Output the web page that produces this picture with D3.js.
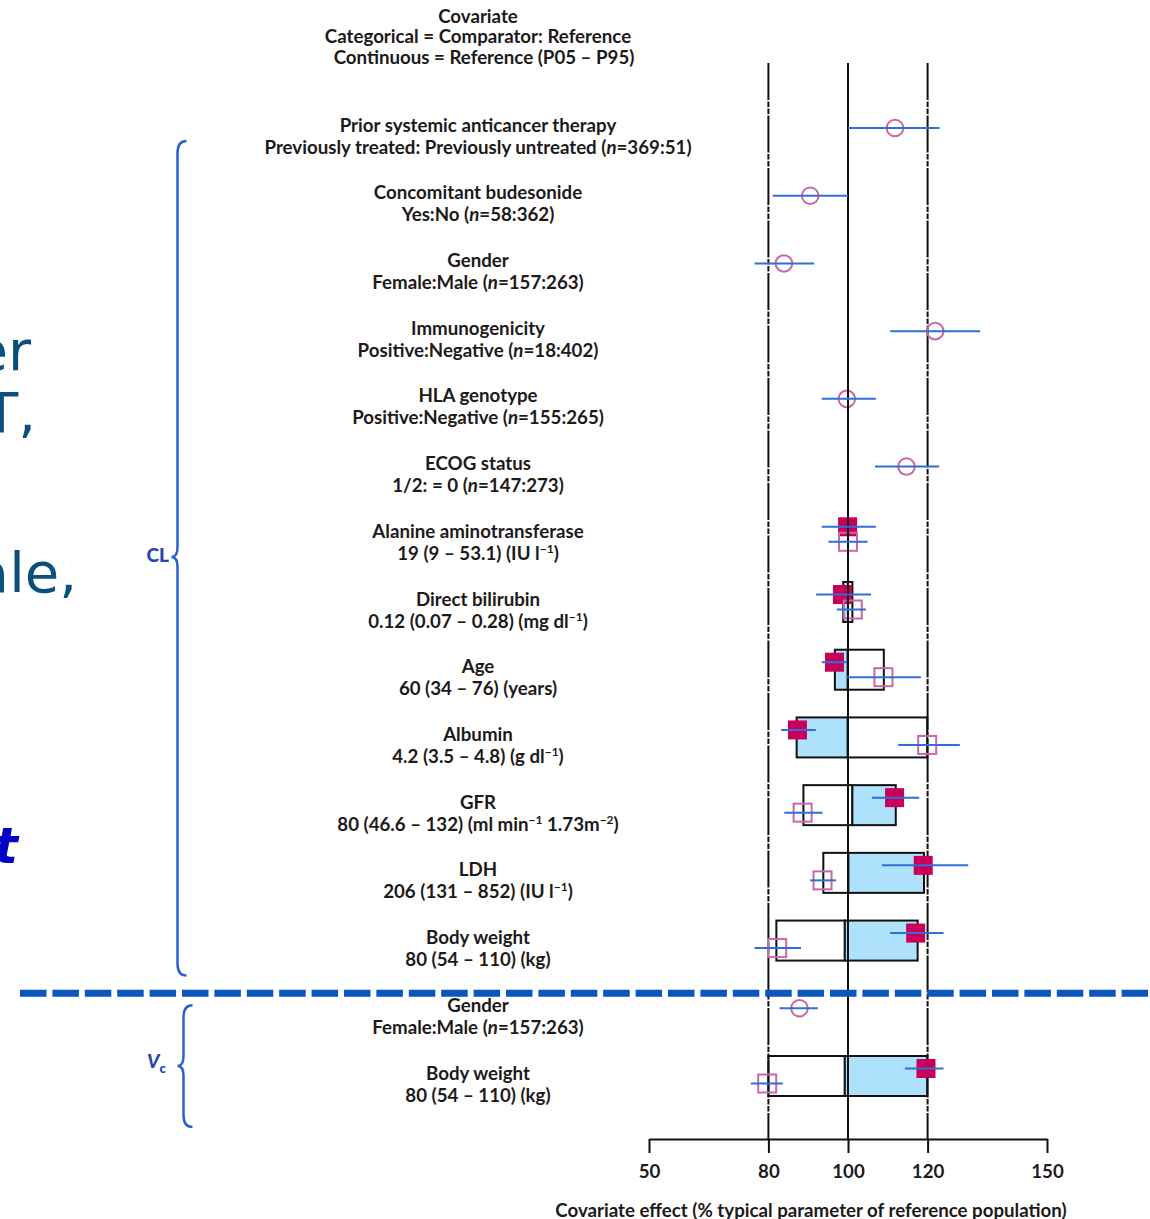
<!DOCTYPE html>
<html>
<head>
<meta charset="utf-8">
<script src="https://cdn.jsdelivr.net/npm/d3@7"></script>
<style>
  body { margin: 0; background: #fff; }
  svg { display: block; }
</style>
</head>
<body>
<svg id="chart" width="1150" height="1219"></svg>
<script>
// ---- Rows (top to bottom) ----
const rowIds = ["prior", "budesonide", "genderCL", "immuno", "hla", "ecog",
  "alt", "dbil", "age", "albumin", "gfr", "ldh", "weightCL", "genderVc", "weightVc"];
const rowTitles = ["Prior systemic anticancer therapy", "Concomitant budesonide", "Gender",
  "Immunogenicity", "HLA genotype", "ECOG status", "Alanine aminotransferase",
  "Direct bilirubin", "Age", "Albumin", "GFR", "LDH", "Body weight", "Gender", "Body weight"];
// _x_ = italic, ^x^ = superscript
const rowSubtitles = ["Previously treated: Previously untreated (_n_=369:51)",
  "Yes:No (_n_=58:362)", "Female:Male (_n_=157:263)", "Positive:Negative (_n_=18:402)",
  "Positive:Negative (_n_=155:265)", "1/2: = 0 (_n_=147:273)", "19 (9 – 53.1) (IU l^−1^)",
  "0.12 (0.07 – 0.28) (mg dl^−1^)", "60 (34 – 76) (years)", "4.2 (3.5 – 4.8) (g dl^−1^)",
  "80 (46.6 – 132) (ml min^−1^ 1.73m^−2^)", "206 (131 – 852) (IU l^−1^)", "80 (54 – 110) (kg)",
  "Female:Male (_n_=157:263)", "80 (54 – 110) (kg)"];
const headerLines = ["Covariate", "Categorical = Comparator: Reference", "Continuous = Reference (P05 – P95)"];

// ---- Categorical covariates: estimate with 90% CI (% of reference) ----
const catRows = ["prior", "budesonide", "genderCL", "immuno", "hla", "ecog", "genderVc"];
const catEst  = [111.8, 90.5, 83.9, 121.9, 99.7, 114.7, 87.8];
const catLo   = [100.0, 81.1, 76.5, 110.6, 93.4, 106.8, 82.8];
const catHi   = [123.0, 100.0, 91.5, 133.2, 107.0, 122.9, 92.4];

// ---- Continuous covariates: effect at P95 (filled) and P05 (open) ----
const contRows = ["alt", "dbil", "age", "albumin", "gfr", "ldh", "weightCL", "weightVc"];
const p95Est = [99.9, 98.6, 96.6, 87.3, 111.7, 118.9, 117.0, 119.6];
const p95Lo  = [93.4, 92.0, 93.4, 83.2, 106.0, 108.5, 110.6, 114.3];
const p95Hi  = [107.0, 105.8, 99.7, 91.9, 117.9, 130.2, 124.0, 124.0];
const p05Est = [100.0, 101.2, 108.9, 119.9, 88.6, 93.6, 82.2, 79.7];
const p05Lo  = [95.1, 97.2, 99.7, 112.6, 84.0, 90.5, 76.5, 75.6];
const p05Hi  = [104.9, 104.5, 118.3, 128.1, 93.6, 97.0, 88.2, 83.6];
// range boxes: shared inner edge, P95 side (shaded) and P05 side (open)
const boxMid = [100.0, 100.0, 99.9, 99.9, 101.1, 100.1, 99.2, 99.2];
const boxP95 = [100.0, 98.8, 96.7, 87.1, 112.0, 119.1, 117.5, 119.9];
const boxP05 = [100.0, 101.1, 109.0, 119.9, 88.8, 93.8, 82.0, 80.0];

const tickValues = [50, 80, 100, 120, 150];
const refLines = [80, 100, 120];
const axisTitle = "Covariate effect (% typical parameter of reference population)";

// ---- Styling ----
const FONT = "Lato, 'Open Sans', sans-serif";
const FS = 18.7;
const TEXT = "#1e1a1a";
const SHADE = "#aee1fc";
const FILLED = "#c8005a";
const OPEN = "#c868aa";
const CI = "#2f6fd6";
const BRACE = "#2c60d0";

const svg = d3.select("#chart");

const x = d3.scaleLinear().domain([50, 150]).range([649, 1047]);
const y = d3.scalePoint().domain(rowIds).range([128, 1076]);
const axisY = 1139;
const refTop = 63;

// ---- Slide text at the left edge ----
const slide = svg.append("g").attr("font-family", "'DejaVu Sans', Verdana, sans-serif")
  .attr("font-size", 56).attr("fill", "#0b4f7e").attr("text-anchor", "end");
slide.append("text").attr("x", 31).attr("y", 370).text("er");
slide.append("text").attr("x", 36).attr("y", 432).text("T,");
slide.append("text").attr("x", 77).attr("y", 592).text("ale,");
slide.append("text").attr("x", 18).attr("y", 863)
  .attr("font-size", 50).attr("font-weight", "bold").attr("font-style", "italic")
  .attr("fill", "#0000c8").text("ot");

// ---- Header and covariate labels ----
const labels = svg.append("g").attr("font-family", FONT).attr("font-weight", 700)
  .attr("font-size", FS).attr("fill", TEXT).attr("text-anchor", "middle");

labels.selectAll("text.hdr").data(headerLines).join("text").attr("class", "hdr")
  .attr("x", (d, i) => i === 2 ? 484 : 478)
  .attr("y", (d, i) => 16 + i * 20.5).attr("dy", "0.35em").text(d => d);

function richText(sel, str) {
  const parts = str.split(/(_[^_]+_|\^[^^]+\^)/).filter(s => s.length);
  let shift = 0;
  parts.forEach(p => {
    let t;
    if (p.startsWith("^")) {
      t = sel.append("tspan").attr("font-size", 12).attr("dy", -7).text(p.slice(1, -1));
      shift = 7;
      return;
    }
    if (p.startsWith("_")) t = sel.append("tspan").attr("font-style", "italic").text(p.slice(1, -1));
    else t = sel.append("tspan").text(p);
    if (shift) { t.attr("dy", shift); shift = 0; }
  });
}

rowIds.forEach((id, i) => {
  labels.append("text").attr("x", 478).attr("y", y(id) - 3).attr("dy", "0.35em").text(rowTitles[i]);
  labels.append("text").attr("x", 478).attr("y", y(id) + 19).attr("dy", "0.35em")
    .call(t => richText(t, rowSubtitles[i]));
});

// ---- Range boxes ----
const boxes = svg.append("g").attr("stroke", "#111").attr("stroke-width", 2);
contRows.forEach((id, i) => {
  const cy = y(id);
  const lo95 = Math.min(boxMid[i], boxP95[i]), hi95 = Math.max(boxMid[i], boxP95[i]);
  const lo05 = Math.min(boxMid[i], boxP05[i]), hi05 = Math.max(boxMid[i], boxP05[i]);
  if (hi05 > lo05) boxes.append("rect").attr("x", x(lo05)).attr("width", x(hi05) - x(lo05))
    .attr("y", cy - 20).attr("height", 40).attr("fill", "#fff");
  if (hi95 > lo95) boxes.append("rect").attr("x", x(lo95)).attr("width", x(hi95) - x(lo95))
    .attr("y", cy - 20).attr("height", 40).attr("fill", SHADE);
});

// ---- Reference lines at 80 and 120 ----
svg.append("g").selectAll("line").data(refLines.filter(v => v !== 100)).join("line")
  .attr("x1", d => x(d)).attr("x2", d => x(d)).attr("y1", refTop).attr("y2", axisY)
  .attr("stroke", "#111").attr("stroke-width", 2)
  .attr("stroke-dasharray", "37,1.5,5.5,1.5,5.5,1.5");

// ---- Markers ----
const marks = svg.append("g");
marks.selectAll("circle").data(catRows).join("circle")
  .attr("cx", (d, i) => x(catEst[i])).attr("cy", d => y(d)).attr("r", 8.3)
  .attr("fill", "none").attr("stroke", OPEN).attr("stroke-width", 2);
marks.selectAll("rect.p95").data(contRows).join("rect").attr("class", "p95")
  .attr("x", (d, i) => x(p95Est[i]) - 9.5).attr("y", d => y(d) - 7.5 - 9.5)
  .attr("width", 19).attr("height", 19).attr("fill", FILLED);
marks.selectAll("rect.p05").data(contRows).join("rect").attr("class", "p05")
  .attr("x", (d, i) => x(p05Est[i]) - 9).attr("y", d => y(d) + 7.5 - 9)
  .attr("width", 18).attr("height", 18).attr("fill", "none")
  .attr("stroke", OPEN).attr("stroke-width", 2);

// ---- Line of no effect ----
svg.append("line").attr("x1", x(100)).attr("x2", x(100)).attr("y1", refTop).attr("y2", axisY)
  .attr("stroke", "#111").attr("stroke-width", 2);

// ---- Confidence intervals ----
const ci = svg.append("g").attr("stroke", CI).attr("stroke-width", 2);
catRows.forEach((id, i) => ci.append("line").attr("x1", x(catLo[i])).attr("x2", x(catHi[i]))
  .attr("y1", y(id)).attr("y2", y(id)));
contRows.forEach((id, i) => {
  ci.append("line").attr("x1", x(p95Lo[i])).attr("x2", x(p95Hi[i]))
    .attr("y1", y(id) - 7.5).attr("y2", y(id) - 7.5);
  ci.append("line").attr("x1", x(p05Lo[i])).attr("x2", x(p05Hi[i]))
    .attr("y1", y(id) + 7.5).attr("y2", y(id) + 7.5);
});

// ---- Axis ----
const axis = svg.append("g").attr("transform", `translate(0,${axisY})`)
  .call(d3.axisBottom(x).tickValues(tickValues).tickSize(14).tickSizeOuter(0).tickPadding(12));
axis.select(".domain").attr("stroke", "#111").attr("stroke-width", 2);
axis.selectAll(".tick line").attr("stroke", "#111").attr("stroke-width", 2);
axis.selectAll(".tick text").attr("font-family", FONT).attr("font-weight", 700)
  .attr("font-size", FS).attr("fill", TEXT);
svg.append("text").attr("x", 811).attr("y", 1210).attr("dy", "0.35em")
  .attr("text-anchor", "middle").attr("font-family", FONT).attr("font-weight", 700)
  .attr("font-size", FS).attr("fill", TEXT).text(axisTitle);

// ---- Separator between CL and Vc ----
svg.append("line").attr("x1", 20).attr("x2", 1150)
  .attr("y1", y("genderVc") - 15).attr("y2", y("genderVc") - 15)
  .attr("stroke", "#0a55c0").attr("stroke-width", 7).attr("stroke-dasharray", "26.5,5.9");

// ---- Parameter braces ----
function brace(xLine, top, tip, bottom, curl) {
  const p = d3.path();
  p.moveTo(xLine + curl, top);
  p.quadraticCurveTo(xLine, top, xLine, top + 12);
  p.lineTo(xLine, tip - 10);
  p.quadraticCurveTo(xLine, tip, xLine - 6, tip);
  p.quadraticCurveTo(xLine, tip, xLine, tip + 10);
  p.lineTo(xLine, bottom - 12);
  p.quadraticCurveTo(xLine, bottom, xLine + curl, bottom);
  return p.toString();
}
const braces = svg.append("g").attr("fill", "none").attr("stroke", BRACE).attr("stroke-width", 2.5);
braces.append("path").attr("d", brace(177.5, y("prior") + 13, 557, y("weightCL") + 35, 9));
braces.append("path").attr("d", brace(183.5, y("genderVc") - 3, 1066, y("weightVc") + 51, 9));

svg.append("text").attr("x", 169).attr("y", 555).attr("dy", "0.35em").attr("text-anchor", "end")
  .attr("font-family", FONT).attr("font-weight", 900).attr("font-size", 19).attr("fill", "#2546b0")
  .text("CL");
const vc = svg.append("text").attr("x", 147).attr("y", 1061).attr("dy", "0.35em")
  .attr("font-family", FONT).attr("font-weight", 900).attr("font-size", 19).attr("fill", "#2546b0");
vc.append("tspan").attr("font-style", "italic").text("V");
vc.append("tspan").attr("font-size", 13).attr("dy", 5).text("c");
</script>
</body>
</html>
